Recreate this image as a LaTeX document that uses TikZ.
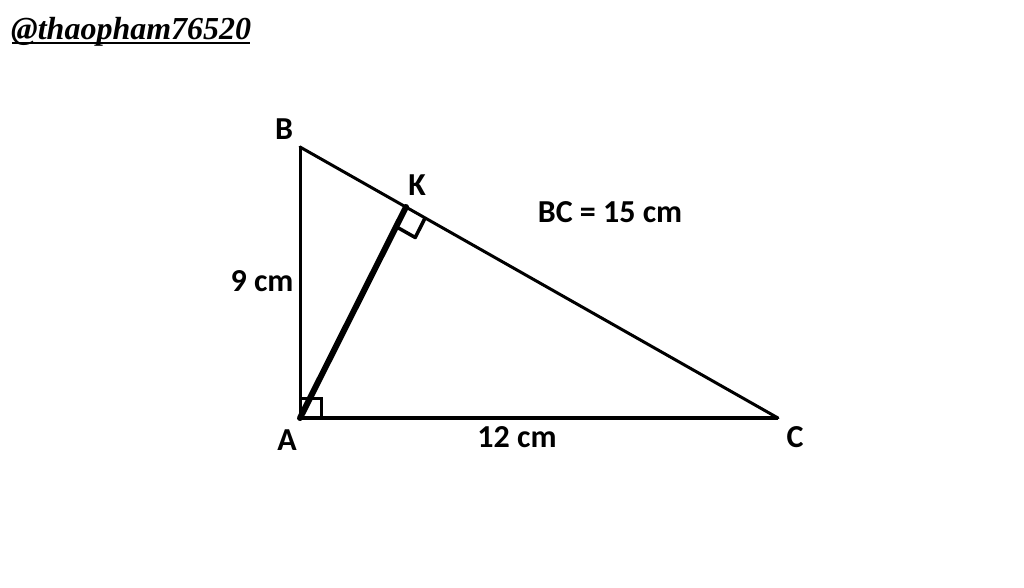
\documentclass[tikz,border=0pt]{standalone}
\usepackage{fontspec}
\usetikzlibrary{calc}
\setmainfont{Carlito}
\newfontfamily\wmfont{Liberation Serif}
\begin{document}
\begin{tikzpicture}[x=1pt,y=-1pt,
  lbl/.style={font=\fontsize{32}{36}\selectfont\bfseries, inner sep=0pt},
  side/.style={line width=3pt, line cap=round, line join=round},
  rmark/.style={line width=3pt}]
\useasboundingbox (0,0) rectangle (1024,587);
\fill[white] (0,0) rectangle (1024,587);
\coordinate (A) at (300,418);
\coordinate (B) at (300,147);
\coordinate (C) at (778,418);
\coordinate (K) at (406,207);
% sides
\draw[side] (A) -- (B);
\draw[side] (B) -- (C);
\draw[line width=3.5pt] (A) -- (C);
\draw[line width=6pt, line cap=round] (A) -- (K);
% right angle at A
\draw[rmark] (A) rectangle ++(21,-20);
% right angle at K
\coordinate (K1) at ($(K)!22pt!(A)$);
\coordinate (K2) at ($(K)!22pt!(C)$);
\draw[rmark, line width=3.5pt, line join=round] (K1) -- ($(K1)+(K2)-(K)$) -- (K2);
% labels
\node[lbl] (lB) at (284,129) {B};
\node[lbl] (lK) at (417,185) {K};
\node[lbl] (lA) at (287,440) {A};
\node[lbl] (lC) at (795,437) {C};
\node[lbl] (lAB) at (262,281) {9 cm};
\node[lbl] (lAC) at (517,437) {12 cm};
\node[lbl] (lBC) at (610,212) {BC = 15 cm};
\node[anchor=base west, inner sep=0pt, font=\wmfont\fontsize{32}{34}\selectfont\bfseries\itshape] (wm) at (11,39) {@thaopham76520};
\draw[line width=2pt] (12,43) -- (250,43);
\end{tikzpicture}
\end{document}
